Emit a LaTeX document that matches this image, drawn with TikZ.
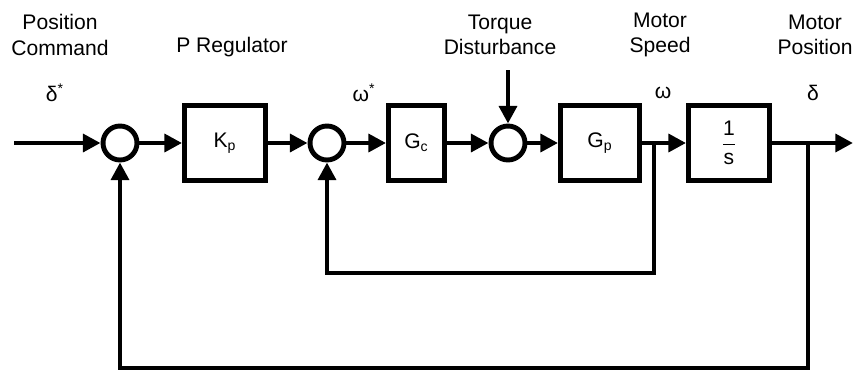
\documentclass[tikz,border=0pt]{standalone}
\usepackage{fontspec}
\setmainfont{Liberation Sans}
\usetikzlibrary{arrows.meta}
\tikzset{
  block/.style = {draw, line width=2.8pt, minimum height=1.5cm, minimum width=1.62cm,
                  inner sep=0pt, font=\fontsize{12}{14}\selectfont},
  sumjn/.style = {draw, circle, line width=2.8pt, minimum size=0.68cm, inner sep=0pt},
  sig/.style   = {-{Triangle[length=10pt,width=10pt]}, line width=2.8pt},
  lbl/.style   = {align=center, font=\fontsize{12}{14.5}\selectfont, inner sep=0pt},
}

\begin{document}
\begin{tikzpicture}[x=0.02cm, y=-0.02cm]
  \useasboundingbox (0,0) rectangle (853,376);

  % blocks and summing junctions
  \node[sumjn] (sumpos) at (120,143) {};
  \node[block] (kp) at (225,143) {K\textsubscript{p}};
  \node[sumjn] (sumspd) at (327,143) {};
  \node[block, minimum width=1.12cm] (gc) at (416.5,143) {G\textsubscript{c}};
  \node[sumjn] (sumtrq) at (508,143) {};
  \node[block, minimum width=1.58cm] (gp) at (600,143) {G\textsubscript{p}};
  \node[block] (integ) at (729,143) {$\displaystyle\frac{\mbox{1}}{\mbox{s}}$};

  % signal points
  \coordinate (xin)  at (14,143);
  \coordinate (trq)  at (508,70);
  \coordinate (wbr)  at (654,143);
  \coordinate (wlow) at (654,273);
  \coordinate (pbr)  at (808,143);
  \coordinate (plow) at (808,368);
  \coordinate (xout) at (853,143);

  % forward path
  \draw[sig] (xin) -- (sumpos.west);
  \draw[sig] (sumpos.east) -- (kp.west);
  \draw[sig] (kp.east) -- (sumspd.west);
  \draw[sig] (sumspd.east) -- (gc.west);
  \draw[sig] (gc.east) -- (sumtrq.west);
  \draw[sig] (trq) -- (sumtrq.north);
  \draw[sig] (sumtrq.east) -- (gp.west);
  \draw[sig] (gp.east) -- (integ.west);
  \draw[sig] (integ.east) -- (xout);

  % feedback loops
  \draw[sig] (wbr) -- (wlow) -| (sumspd.south);
  \draw[sig] (pbr) -- (plow) -| (sumpos.south);

  % labels
  \node[lbl] (poscmd) at (60,35) {Position\\Command};
  \node[lbl] (preg) at (232,47) {P Regulator};
  \node[lbl] (trqdist) at (500,35) {Torque\\Disturbance};
  \node[lbl] (mspd) at (660,35) {Motor\\Speed};
  \node[lbl] (mpos) at (815,35) {Motor\\Position};
  \node[lbl] (dref) at (55,93) {δ\textsuperscript{*}};
  \node[lbl] (wref) at (364,93) {ω\textsuperscript{*}};
  \node[lbl] (wsig) at (663,93) {ω};
  \node[lbl] (dsig) at (813,93) {δ};
\end{tikzpicture}
\end{document}
